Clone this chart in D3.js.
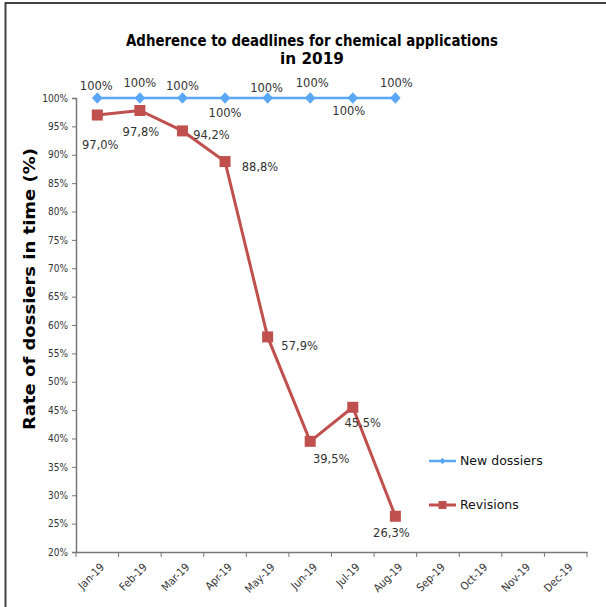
<!DOCTYPE html>
<html>
<head>
<meta charset="utf-8">
<script src="https://cdn.jsdelivr.net/npm/d3@7"></script>
<style>
  html, body { margin: 0; padding: 0; background: #fff; }
  svg { display: block; }
</style>
</head>
<body>
<div id="chart"></div>
<script>
// ---- data ----
const months = ["Jan-19","Feb-19","Mar-19","Apr-19","May-19","Jun-19","Jul-19","Aug-19","Sep-19","Oct-19","Nov-19","Dec-19"];
const newDossiers = [100, 100, 100, 100, 100, 100, 100, 100];
const revisions = [97.0, 97.8, 94.2, 88.8, 57.9, 39.5, 45.5, 26.3];
const yTickValues = [20, 25, 30, 35, 40, 45, 50, 55, 60, 65, 70, 75, 80, 85, 90, 95, 100];
const seriesNames = ["New dossiers", "Revisions"];
const titleLines = ["Adherence to deadlines for chemical applications", "in 2019"];
const yTitle = "Rate of dossiers in time (%)";

// label placement (layout only)
const newLabelOffsets = [[-1,-12],[0,-15],[0,-12],[0,15],[-1,-10],[2,-15],[-4,13],[1,-15]];
const revLabelOffsets = [[3,30],[1,22],[29,5],[35,6],[32,10],[21,18],[10,16],[-4,17]];

(function () {
const W = 606, H = 607;
const pLeft = 76, pRight = 587, pTop = 98, pBottom = 552;
const blue = "#5AA6F7", red = "#C0504D";

const svg = d3.select("#chart").append("svg").attr("width", W).attr("height", H);

// outer frame (top & left)
svg.append("path").attr("d", `M5.5,${H} V3 H${W}`).attr("fill", "none").attr("stroke", "#444").attr("stroke-width", 2);

const x = d3.scaleBand().domain(months).range([pLeft, pRight]);
const y = d3.scaleLinear().domain([20, 100]).range([pBottom, pTop]);

// title
const title = svg.append("g").attr("font-family", "DejaVu Sans, sans-serif").attr("font-weight", "bold").attr("font-size", 16).attr("fill", "#000").attr("text-anchor", "middle");
title.append("text").attr("x", 312).attr("y", 46).attr("textLength", 372).attr("lengthAdjust", "spacingAndGlyphs").text(titleLines[0]);
title.append("text").attr("x", 312).attr("y", 64).attr("textLength", 64).attr("lengthAdjust", "spacingAndGlyphs").text(titleLines[1]);

// y axis title
svg.append("text")
  .attr("transform", `translate(35,289) rotate(-90)`)
  .attr("text-anchor", "middle")
  .attr("font-family", "DejaVu Sans, sans-serif").attr("font-weight", "bold").attr("font-size", 15.5)
  .attr("textLength", 282).attr("lengthAdjust", "spacingAndGlyphs")
  .text(yTitle);

// y axis
const yAxis = d3.axisLeft(y).tickValues(yTickValues).tickSize(4).tickPadding(4).tickFormat(d => d + "%");
const gy = svg.append("g").attr("transform", `translate(${pLeft},0)`).call(yAxis);
gy.select(".domain").attr("stroke", "#777").attr("stroke-width", 1.5);
gy.selectAll(".tick line").attr("stroke", "#777");
gy.selectAll(".tick text").attr("font-family", "DejaVu Sans Condensed, DejaVu Sans, sans-serif").attr("font-size", 10).attr("fill", "#333");

// x axis
const xAxis = d3.axisBottom(x).tickSize(0).tickFormat("");
const gx = svg.append("g").attr("transform", `translate(0,${pBottom})`).call(xAxis);
gx.select(".domain").attr("stroke", "#777").attr("stroke-width", 1.5);
const boundaries = months.map(m => x(m)).concat([x(months[months.length - 1]) + x.bandwidth()]);
gx.selectAll(".btick").data(boundaries).enter().append("line")
  .attr("x1", d => d).attr("x2", d => d).attr("y1", 0).attr("y2", 5)
  .attr("stroke", "#777");
svg.append("g").selectAll("text").data(months).enter().append("text")
  .attr("transform", d => `translate(${x(d) + x.bandwidth() / 2 + 5},${pBottom + 13}) rotate(-45)`)
  .attr("text-anchor", "end")
  .attr("dy", "0.35em")
  .attr("font-family", "DejaVu Sans Condensed, DejaVu Sans, sans-serif").attr("font-size", 11).attr("fill", "#333")
  .text(d => d);

const cx = i => x(months[i]) + x.bandwidth() / 2;

// lines
const line = d3.line().x((d, i) => cx(i)).y(d => y(d));
svg.append("path").datum(newDossiers).attr("d", line).attr("fill", "none").attr("stroke", blue).attr("stroke-width", 2.5);
svg.append("path").datum(revisions).attr("d", line).attr("fill", "none").attr("stroke", red).attr("stroke-width", 3);

// markers: square-ish diamond
const squareDiamond = {
  draw(ctx, size) {
    const r = Math.sqrt(size / 2);
    ctx.moveTo(0, -r * 1.08); ctx.lineTo(r, 0); ctx.lineTo(0, r * 1.08); ctx.lineTo(-r, 0); ctx.closePath();
  }
};
svg.append("g").selectAll("path").data(newDossiers).enter().append("path")
  .attr("d", d3.symbol().type(squareDiamond).size(56)).attr("transform", (d, i) => `translate(${cx(i)},${y(d)})`).attr("fill", blue);
svg.append("g").selectAll("rect").data(revisions).enter().append("rect")
  .attr("x", (d, i) => cx(i) - 5.5).attr("y", d => y(d) - 5.5).attr("width", 11).attr("height", 11).attr("fill", red);

// data labels
const lblFont = "DejaVu Sans, sans-serif";
svg.append("g").selectAll("text").data(newDossiers).enter().append("text")
  .attr("x", (d, i) => cx(i) + newLabelOffsets[i][0]).attr("y", (d, i) => y(d) + newLabelOffsets[i][1])
  .attr("text-anchor", "middle").attr("dominant-baseline", "middle")
  .attr("font-family", lblFont).attr("font-size", 11.5).attr("fill", "#333")
  .text(d => d + "%");
svg.append("g").selectAll("text").data(revisions).enter().append("text")
  .attr("x", (d, i) => cx(i) + revLabelOffsets[i][0]).attr("y", (d, i) => y(d) + revLabelOffsets[i][1])
  .attr("text-anchor", "middle").attr("dominant-baseline", "middle")
  .attr("font-family", lblFont).attr("font-size", 11.5).attr("fill", "#333")
  .text(d => d.toFixed(1).replace(".", ",") + "%");

// legend
const legend = svg.append("g");
const legY = [461, 505];
const legColors = [blue, red];
seriesNames.forEach((name, i) => {
  const g = legend.append("g").attr("transform", `translate(0,${legY[i]})`);
  g.append("line").attr("x1", 429).attr("x2", 456).attr("y1", 0).attr("y2", 0).attr("stroke", legColors[i]).attr("stroke-width", i === 0 ? 2.5 : 3);
  if (i === 0) {
    g.append("path").attr("d", d3.symbol().type(squareDiamond).size(18)).attr("transform", "translate(442.5,0)").attr("fill", blue);
  } else {
    g.append("rect").attr("x", 438.5).attr("y", -4).attr("width", 8).attr("height", 8).attr("fill", red);
  }
  g.append("text").attr("x", 460).attr("y", 0).attr("dominant-baseline", "middle")
    .attr("font-family", "DejaVu Sans, sans-serif").attr("font-size", 12.5).attr("fill", "#111").text(name);
});
})();
</script>
</body>
</html>
